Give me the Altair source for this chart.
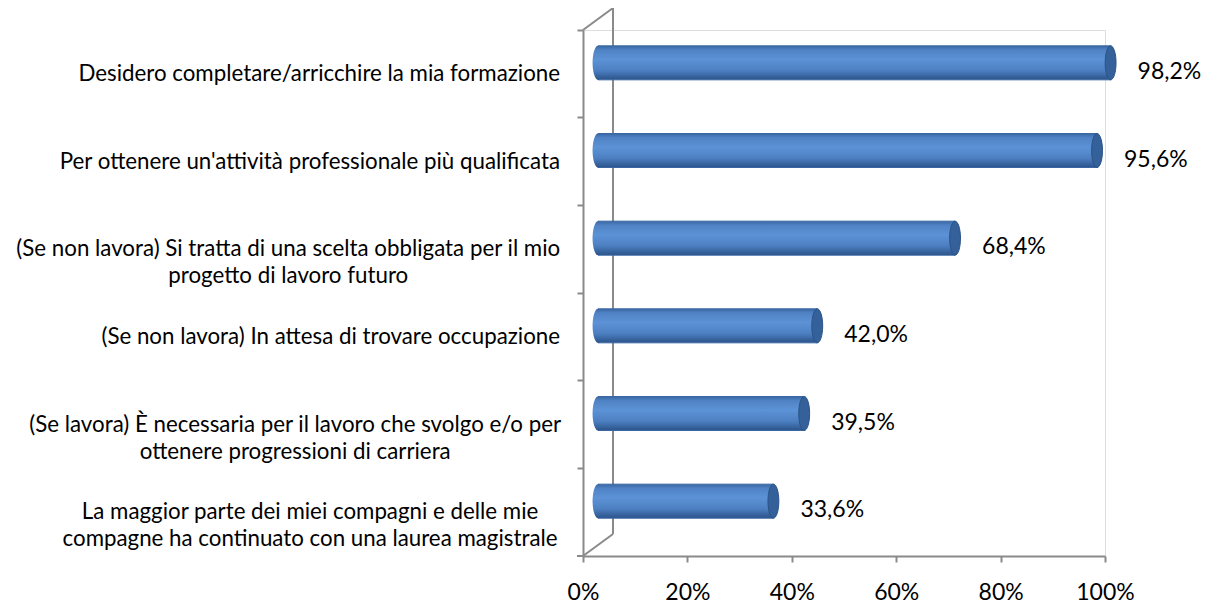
import altair as alt
import pandas as pd

# ---------------- data ----------------
categories = [
    "Desidero completare/arricchire la mia formazione",
    "Per ottenere un'attività professionale più qualificata",
    "(Se non lavora) Si tratta di una scelta obbligata per il mio\nprogetto di lavoro futuro",
    "(Se non lavora) In attesa di trovare occupazione",
    "(Se lavora) È necessaria per il lavoro che svolgo e/o per\nottenere progressioni di carriera",
    "La maggior parte dei miei compagni e delle mie\ncompagne ha continuato con una laurea magistrale",
]
values = [98.2, 95.6, 68.4, 42.0, 39.5, 33.6]
x_ticks = [0, 20, 40, 60, 80, 100]

keys = [f"c{i}" for i in range(len(categories))]
labels_txt = [f"{v:.1f}".replace(".", ",") + "%" for v in values]
df = pd.DataFrame({"key": keys, "value": values, "label": labels_txt, "cat": categories})

# ---------------- layout ----------------
W, H = 522, 526
FONT = "Lato"
CAT_SIZE = 22.3
AX = "#8a8a8a"
DEPTH_X, DEPTH_Y = 30, 22
OFF_X, OFF_Y = DEPTH_X / 2, -DEPTH_Y / 2
BAR_H = 34
LABEL_GAP = 23

# rough Lato advance widths (em) to centre two-line labels as Excel does
CW = {" ": 0.19, "(": 0.30, ")": 0.30, "/": 0.36, "'": 0.17, "i": 0.23, "l": 0.23, "j": 0.23,
      "f": 0.31, "t": 0.34, "r": 0.35, "s": 0.41, "c": 0.45, "z": 0.43, "e": 0.51, "a": 0.49,
      "v": 0.48, "y": 0.48, "x": 0.48, "k": 0.48, "g": 0.50, "o": 0.55, "b": 0.55, "d": 0.55,
      "p": 0.55, "q": 0.55, "h": 0.55, "n": 0.55, "u": 0.55, "m": 0.83, "w": 0.74,
      "à": 0.49, "ù": 0.55, "S": 0.49, "L": 0.47, "P": 0.57, "D": 0.68, "È": 0.55}

def text_w(s):
    return sum(CW.get(c, 0.55) for c in s) * CAT_SIZE * 1.05

grad = {
    "gradient": "linear", "x1": 0, "y1": 0, "x2": 0, "y2": 1,
    "stops": [
        {"offset": 0.0, "color": "#3a66a2"},
        {"offset": 0.12, "color": "#4f82c4"},
        {"offset": 0.4, "color": "#5c93d6"},
        {"offset": 0.72, "color": "#4d80c2"},
        {"offset": 1.0, "color": "#2b5389"},
    ],
}

ELL = "M0,-1A0.32,1,0,1,1,0,1A0.32,1,0,1,1,0,-1Z"

base = alt.Chart(df)

y_enc = alt.Y(
    "key:N", sort=keys,
    scale=alt.Scale(paddingInner=0, paddingOuter=0),
    axis=alt.Axis(labels=False, title=None, domainColor=AX, domainWidth=2, tickColor=AX,
                  tickWidth=2, tickSize=6, bandPosition=0),
)
x_enc = alt.X(
    "value:Q", scale=alt.Scale(domain=[0, 100], nice=False),
    axis=alt.Axis(values=x_ticks, labelExpr="datum.value + '%'", grid=False, title=None,
                  domainColor=AX, domainWidth=2, tickColor=AX, tickWidth=2, tickSize=6,
                  labelFont=FONT, labelFontSize=23, labelColor="#000", labelPadding=19,
                  labelFlush=False, labelOverlap=False),
)

bars = base.mark_bar(size=BAR_H, color=grad, stroke="#3a67a3", strokeWidth=1,
                     xOffset=OFF_X, x2Offset=OFF_X, yOffset=OFF_Y).encode(
    x=x_enc, x2=alt.datum(0), y=y_enc)

left_cap = base.mark_point(shape=ELL, size=BAR_H * BAR_H, filled=True, color=grad, opacity=1,
                           xOffset=OFF_X, yOffset=OFF_Y).encode(
    x=alt.datum(0), y="key:N")

end_cap = base.mark_point(shape=ELL, size=BAR_H * BAR_H, filled=True, fill="#34619a",
                          stroke="#2b5286", strokeWidth=1, opacity=1,
                          xOffset=OFF_X, yOffset=OFF_Y).encode(
    x="value:Q", y="key:N")

value_txt = base.mark_text(align="left", baseline="middle", dx=42, dy=-2, font=FONT,
                           fontSize=23, color="#000").encode(
    x="value:Q", y="key:N", text="label:N")

# category labels
single = base.transform_filter("indexof(datum.cat, '\\n') < 0").mark_text(
    align="right", baseline="middle", font=FONT, fontSize=CAT_SIZE, color="#000").encode(
    x=alt.value(-LABEL_GAP), y="key:N", text="cat:N")

multi_layers = []
for k, c in zip(keys, categories):
    if "\n" in c:
        bw = max(text_w(s) for s in c.split("\n"))
        multi_layers.append(
            base.transform_filter(alt.datum.key == k).mark_text(
                align="center", baseline="middle", lineBreak="\n", lineHeight=27,
                font=FONT, fontSize=CAT_SIZE, color="#000").encode(
                x=alt.value(-LABEL_GAP - bw / 2), y="key:N", text="cat:N"))

# 3-D wall decoration
deco_df = pd.DataFrame({"d": [0]})
deco = alt.Chart(deco_df)
back_line = deco.mark_rule(color=AX, strokeWidth=2).encode(
    x=alt.value(DEPTH_X), y=alt.value(-DEPTH_Y), y2=alt.value(H - DEPTH_Y))
top_diag = deco.mark_rule(color=AX, strokeWidth=2).encode(
    x=alt.value(0), y=alt.value(0), x2=alt.value(DEPTH_X), y2=alt.value(-DEPTH_Y))
bot_diag = deco.mark_rule(color=AX, strokeWidth=2).encode(
    x=alt.value(0), y=alt.value(H), x2=alt.value(DEPTH_X), y2=alt.value(H - DEPTH_Y))
bot_tick = deco.mark_rule(color=AX, strokeWidth=2).encode(
    x=alt.value(-6), x2=alt.value(0), y=alt.value(H))

chart = alt.layer(
    back_line, top_diag, bot_diag, bot_tick,
    bars, left_cap, end_cap, value_txt, single, *multi_layers,
).properties(
    width=W, height=H,
    padding={"left": 575, "top": 22, "right": 102, "bottom": 50},
    autosize=alt.AutoSizeParams(type="none"),
).configure_view(stroke=None).configure(background="white")

chart.save("out.html", embed_options={"renderer": "svg", "actions": False})
